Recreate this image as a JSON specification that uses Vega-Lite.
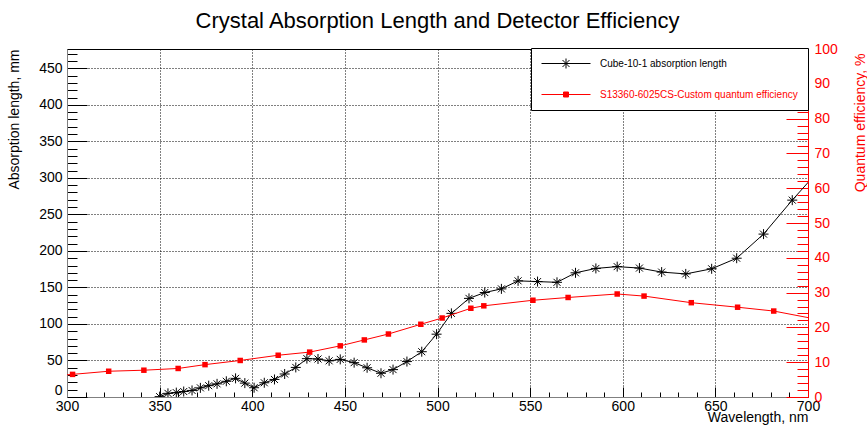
{
  "$schema": "https://vega.github.io/schema/vega-lite/v6.json",
  "width": 741,
  "height": 348,
  "autosize": {"type": "none"},
  "padding": {"left": 67, "top": 49, "right": 59, "bottom": 30},
  "background": "white",
  "title": {"text": "Crystal Absorption Length and Detector Efficiency", "fontSize": 22, "fontWeight": "normal", "font": "Liberation Sans", "color": "black", "anchor": "middle", "frame": "group", "offset": -8, "baseline": "alphabetic"},
  "data": {"values": [
    {"series": "Cube-10-1 absorption length", "nm": 350, "value": 0.5},
    {"series": "Cube-10-1 absorption length", "nm": 354.5, "value": 5},
    {"series": "Cube-10-1 absorption length", "nm": 359, "value": 6},
    {"series": "Cube-10-1 absorption length", "nm": 363, "value": 7.5},
    {"series": "Cube-10-1 absorption length", "nm": 367.5, "value": 9},
    {"series": "Cube-10-1 absorption length", "nm": 372, "value": 12.5},
    {"series": "Cube-10-1 absorption length", "nm": 376.5, "value": 15.5},
    {"series": "Cube-10-1 absorption length", "nm": 381, "value": 18},
    {"series": "Cube-10-1 absorption length", "nm": 386, "value": 21.5},
    {"series": "Cube-10-1 absorption length", "nm": 391, "value": 25.5},
    {"series": "Cube-10-1 absorption length", "nm": 396, "value": 19},
    {"series": "Cube-10-1 absorption length", "nm": 401, "value": 12.7},
    {"series": "Cube-10-1 absorption length", "nm": 406.5, "value": 19.5},
    {"series": "Cube-10-1 absorption length", "nm": 412, "value": 24},
    {"series": "Cube-10-1 absorption length", "nm": 417.5, "value": 31.5},
    {"series": "Cube-10-1 absorption length", "nm": 423.5, "value": 40.5},
    {"series": "Cube-10-1 absorption length", "nm": 429.5, "value": 52.5},
    {"series": "Cube-10-1 absorption length", "nm": 435.5, "value": 52},
    {"series": "Cube-10-1 absorption length", "nm": 441.5, "value": 49.5},
    {"series": "Cube-10-1 absorption length", "nm": 447.5, "value": 51.5},
    {"series": "Cube-10-1 absorption length", "nm": 455, "value": 47},
    {"series": "Cube-10-1 absorption length", "nm": 462, "value": 40},
    {"series": "Cube-10-1 absorption length", "nm": 469.5, "value": 32.5},
    {"series": "Cube-10-1 absorption length", "nm": 476, "value": 37.5},
    {"series": "Cube-10-1 absorption length", "nm": 483.5, "value": 48.5},
    {"series": "Cube-10-1 absorption length", "nm": 491.5, "value": 62},
    {"series": "Cube-10-1 absorption length", "nm": 499.5, "value": 86},
    {"series": "Cube-10-1 absorption length", "nm": 507.5, "value": 114.5},
    {"series": "Cube-10-1 absorption length", "nm": 517, "value": 135},
    {"series": "Cube-10-1 absorption length", "nm": 525.5, "value": 143},
    {"series": "Cube-10-1 absorption length", "nm": 534.5, "value": 148},
    {"series": "Cube-10-1 absorption length", "nm": 543.5, "value": 159},
    {"series": "Cube-10-1 absorption length", "nm": 554, "value": 158},
    {"series": "Cube-10-1 absorption length", "nm": 564.5, "value": 157},
    {"series": "Cube-10-1 absorption length", "nm": 574.5, "value": 170},
    {"series": "Cube-10-1 absorption length", "nm": 585.5, "value": 176},
    {"series": "Cube-10-1 absorption length", "nm": 597, "value": 178.5},
    {"series": "Cube-10-1 absorption length", "nm": 609, "value": 176.5},
    {"series": "Cube-10-1 absorption length", "nm": 621, "value": 171},
    {"series": "Cube-10-1 absorption length", "nm": 634, "value": 168.5},
    {"series": "Cube-10-1 absorption length", "nm": 648, "value": 175.5},
    {"series": "Cube-10-1 absorption length", "nm": 661.5, "value": 190},
    {"series": "Cube-10-1 absorption length", "nm": 676, "value": 223},
    {"series": "Cube-10-1 absorption length", "nm": 691.5, "value": 269.5},
    {"series": "Cube-10-1 absorption length", "nm": 710, "value": 322},
    {"series": "S13360-6025CS-Custom quantum efficiency", "nm": 290, "value": 6.0},
    {"series": "S13360-6025CS-Custom quantum efficiency", "nm": 303, "value": 6.5},
    {"series": "S13360-6025CS-Custom quantum efficiency", "nm": 322.5, "value": 7.4},
    {"series": "S13360-6025CS-Custom quantum efficiency", "nm": 341.5, "value": 7.7},
    {"series": "S13360-6025CS-Custom quantum efficiency", "nm": 360, "value": 8.2},
    {"series": "S13360-6025CS-Custom quantum efficiency", "nm": 374.5, "value": 9.3},
    {"series": "S13360-6025CS-Custom quantum efficiency", "nm": 393.5, "value": 10.5},
    {"series": "S13360-6025CS-Custom quantum efficiency", "nm": 414, "value": 12.0},
    {"series": "S13360-6025CS-Custom quantum efficiency", "nm": 431, "value": 12.9},
    {"series": "S13360-6025CS-Custom quantum efficiency", "nm": 447.5, "value": 14.7},
    {"series": "S13360-6025CS-Custom quantum efficiency", "nm": 460.5, "value": 16.4},
    {"series": "S13360-6025CS-Custom quantum efficiency", "nm": 473.5, "value": 18.1},
    {"series": "S13360-6025CS-Custom quantum efficiency", "nm": 491, "value": 20.9},
    {"series": "S13360-6025CS-Custom quantum efficiency", "nm": 502.5, "value": 22.7},
    {"series": "S13360-6025CS-Custom quantum efficiency", "nm": 518, "value": 25.5},
    {"series": "S13360-6025CS-Custom quantum efficiency", "nm": 525, "value": 26.2},
    {"series": "S13360-6025CS-Custom quantum efficiency", "nm": 551.5, "value": 27.8},
    {"series": "S13360-6025CS-Custom quantum efficiency", "nm": 570.5, "value": 28.6},
    {"series": "S13360-6025CS-Custom quantum efficiency", "nm": 597, "value": 29.6},
    {"series": "S13360-6025CS-Custom quantum efficiency", "nm": 611.5, "value": 29.0},
    {"series": "S13360-6025CS-Custom quantum efficiency", "nm": 637, "value": 27.1},
    {"series": "S13360-6025CS-Custom quantum efficiency", "nm": 662, "value": 25.8},
    {"series": "S13360-6025CS-Custom quantum efficiency", "nm": 681.5, "value": 24.7},
    {"series": "S13360-6025CS-Custom quantum efficiency", "nm": 710, "value": 21.8}
  ]},
  "encoding": {
    "x": {
      "field": "nm", "type": "quantitative",
      "scale": {"domain": [300, 700], "nice": false, "zero": false},
      "axis": {
        "orient": "bottom",
        "values": [300,310,320,330,340,350,360,370,380,390,400,410,420,430,440,450,460,470,480,490,500,510,520,530,540,550,560,570,580,590,600,610,620,630,640,650,660,670,680,690,700],
        "labelExpr": "datum.value % 50 === 0 ? datum.label : ''",
        "labelFontSize": 14, "labelColor": "black", "labelPadding": 12, "labelOverlap": false, "labelFlush": false,
        "tickColor": "black", "tickWidth": 1,
        "tickSize": {"condition": {"test": "datum.value % 50 === 0", "value": -10}, "value": -5},
        "domainColor": "#808080",
        "grid": true, "gridColor": "black", "gridDash": [1, 2],
        "gridOpacity": {"condition": {"test": "datum.value % 50 === 0 && datum.value > 300 && datum.value < 700", "value": 1}, "value": 0},
        "title": "Wavelength, nm", "titleFontSize": 14, "titleFontWeight": "normal", "titleColor": "black",
        "titleAnchor": "end", "titleBaseline": "top", "titleY": 13
      }
    },
    "color": {
      "field": "series", "type": "nominal",
      "scale": {"domain": ["Cube-10-1 absorption length", "S13360-6025CS-Custom quantum efficiency"], "range": ["black", "red"]},
      "legend": {
        "orient": "none", "legendX": 464, "legendY": -1, "title": null,
        "padding": 10, "fillColor": "white", "strokeColor": "black", "cornerRadius": 0,
        "symbolSize": 100, "symbolStrokeWidth": 1, "symbolType": "stroke",
        "labelFontSize": 10, "labelOffset": 48, "labelLimit": 400, "rowPadding": 18,
        "encode": {
          "symbols": {"update": {
            "shape": {"signal": "datum.value === 'Cube-10-1 absorption length' ? 'M-1,0H8.8M3.9,-1V1M3.2,-0.7L4.6,0.7M3.2,0.7L4.6,-0.7' : 'M-1,0H8.8M3.4,-0.5H4.4V0.5H3.4Z'"},
            "fill": {"signal": "datum.value === 'Cube-10-1 absorption length' ? 'transparent' : 'red'"},
            "stroke": {"signal": "datum.value === 'Cube-10-1 absorption length' ? 'black' : 'red'"},
            "strokeWidth": {"value": 1},
            "opacity": {"value": 1}
          }},
          "labels": {"update": {
            "fill": {"signal": "datum.value === 'Cube-10-1 absorption length' ? 'black' : 'red'"}
          }}
        }
      }
    }
  },
  "layer": [
    {
      "transform": [{"filter": "datum.series === 'Cube-10-1 absorption length'"}],
      "mark": {"type": "line", "clip": true, "strokeWidth": 1,
        "point": {"shape": "M-1,0L1,0M0,-1L0,1M-0.7,-0.7L0.7,0.7M-0.7,0.7L0.7,-0.7", "size": 100, "filled": false, "strokeWidth": 1}},
      "encoding": {
        "y": {
          "field": "value", "type": "quantitative",
          "scale": {"domain": [0, 476.4], "nice": false, "zero": false},
          "axis": {
            "orient": "left",
            "values": [0,10,20,30,40,50,60,70,80,90,100,110,120,130,140,150,160,170,180,190,200,210,220,230,240,250,260,270,280,290,300,310,320,330,340,350,360,370,380,390,400,410,420,430,440,450,460,470],
            "labelExpr": "datum.value % 50 === 0 ? datum.label : ''",
            "labelFontSize": 14, "labelColor": "black", "labelPadding": 25, "labelOverlap": false,
            "labelFlush": true,
            "tickColor": "black", "tickWidth": 1,
            "tickSize": {"condition": {"test": "datum.value % 50 === 0", "value": -20}, "value": -10},
            "domainColor": "#808080",
            "grid": true, "gridColor": "black", "gridDash": [1, 2],
            "gridOpacity": {"condition": {"test": "datum.value % 50 === 0 && datum.value > 0", "value": 1}, "value": 0},
            "title": "Absorption length, mm", "titleFontSize": 14, "titleFontWeight": "normal", "titleColor": "black",
            "titleAnchor": "end", "titleBaseline": "bottom", "titleX": -46
          }
        }
      }
    },
    {
      "transform": [{"filter": "datum.series !== 'Cube-10-1 absorption length'"}],
      "mark": {"type": "line", "clip": true, "strokeWidth": 1,
        "point": {"shape": "square", "size": 30, "filled": true}},
      "encoding": {
        "y": {
          "field": "value", "type": "quantitative",
          "scale": {"domain": [0, 100], "nice": false, "zero": false},
          "axis": {
            "orient": "right",
            "values": [0,2,4,6,8,10,12,14,16,18,20,22,24,26,28,30,32,34,36,38,40,42,44,46,48,50,52,54,56,58,60,62,64,66,68,70,72,74,76,78,80,82,84,86,88,90,92,94,96,98,100],
            "labelExpr": "datum.value % 10 === 0 ? datum.label : ''",
            "labelFontSize": 14, "labelColor": "red", "labelPadding": 28, "labelOverlap": false, "labelFlush": false,
            "tickColor": "red", "tickWidth": 1,
            "tickSize": {"condition": {"test": "datum.value % 10 === 0", "value": -22}, "value": -11},
            "domainColor": "red",
            "grid": false,
            "title": "Quantum efficiency, %", "titleFontSize": 14, "titleFontWeight": "normal", "titleColor": "red",
            "titleAngle": -90, "titleAnchor": "end", "titleAlign": "right", "titleBaseline": "top", "titleX": 45, "titleY": 4
          }
        }
      }
    }
  ],
  "resolve": {"scale": {"y": "independent"}},
  "config": {"font": "Liberation Sans", "view": {"stroke": "black", "strokeWidth": 1}}
}
